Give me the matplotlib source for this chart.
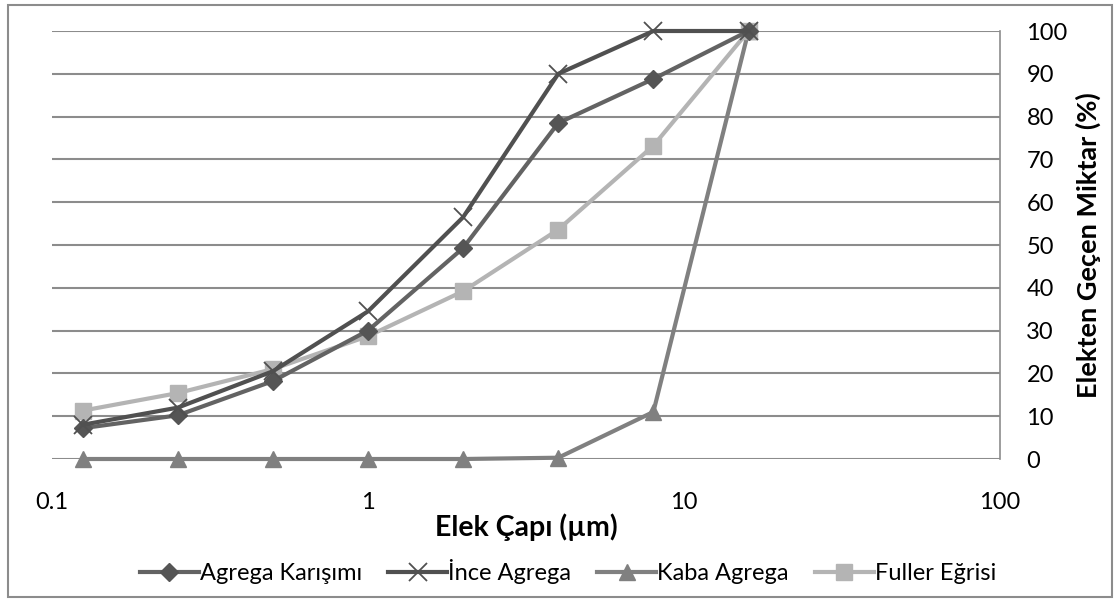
import numpy as np
import matplotlib.pyplot as plt
from matplotlib.patches import Rectangle

plt.rcParams['font.family'] = ['Lato', 'DejaVu Sans']

# sieve sizes (um) and passing percentages
sizes = [0.125, 0.25, 0.5, 1, 2, 4, 8, 16]
agrega_karisimi = [7.2, 10.2, 18.2, 30.0, 49.3, 78.5, 88.8, 100]
ince_agrega = [8.0, 12.0, 20.5, 34.5, 56.5, 90.0, 100, 100]
kaba_agrega = [0, 0, 0, 0, 0, 0.3, 11.0, 100]
fuller_egrisi = [11.3, 15.4, 21.0, 28.7, 39.2, 53.6, 73.2, 100]

x_ticks = [0.1, 1, 10, 100]
x_ticklabels = ['0.1', '1', '10', '100']
y_ticks = list(range(0, 101, 10))

fig = plt.figure(figsize=(11.2, 6.01), dpi=100)
ax = fig.add_axes([52 / 1120, 142 / 601, 948 / 1120, 428 / 601])

# outer chart border
fig.patches.append(Rectangle((8 / 1120, 4 / 601), 1104 / 1120, 592 / 601,
                             transform=fig.transFigure, fill=False,
                             edgecolor='#8c8c8c', linewidth=1.5))

ax.plot(sizes, agrega_karisimi, color='#636363', lw=3, marker='D', ms=9,
        mfc='#555555', mec='#555555', label='Agrega Karışımı', zorder=4,
        clip_on=False)
ax.plot(sizes, ince_agrega, color='#505050', lw=3, marker='x', ms=13,
        mew=1.3, label='İnce Agrega', zorder=5, clip_on=False)
ax.plot(sizes, kaba_agrega, color='#808080', lw=3, marker='^', ms=12,
        label='Kaba Agrega', zorder=3, clip_on=False)
ax.plot(sizes, fuller_egrisi, color='#b4b4b4', lw=3, marker='s', ms=12,
        label='Fuller Eğrisi', zorder=3, clip_on=False)

ax.set_xscale('log')
ax.set_xlim(0.1, 100)
ax.set_ylim(0, 100)
ax.set_xticks(x_ticks)
ax.set_xticklabels(x_ticklabels)
ax.minorticks_off()
ax.set_yticks(y_ticks)
ax.yaxis.tick_right()
ax.yaxis.set_label_position('right')
ax.grid(axis='y', color='#8c8c8c', lw=1.5)
ax.set_axisbelow(True)
for s in ['left', 'top', 'bottom']:
    ax.spines[s].set_visible(False)
ax.spines['right'].set_color('#8c8c8c')
ax.spines['right'].set_linewidth(1.2)
ax.tick_params(axis='both', length=0, labelsize=17, colors='black')
ax.tick_params(axis='x', pad=24)
ax.tick_params(axis='y', pad=19)

ax.set_xlabel('Elek Çapı (µm)', fontsize=20.5, fontweight='bold', labelpad=0)
ax.set_ylabel('Elekten Geçen Miktar (%)', fontsize=19.5, fontweight='bold', labelpad=6)

fig.legend(loc='center', bbox_to_anchor=(568 / 1120, 1 - 572 / 601), ncol=4,
           frameon=False, fontsize=17, handlelength=2.5, columnspacing=1.1,
           handletextpad=0.05)

fig.savefig('out.png', dpi=100)
